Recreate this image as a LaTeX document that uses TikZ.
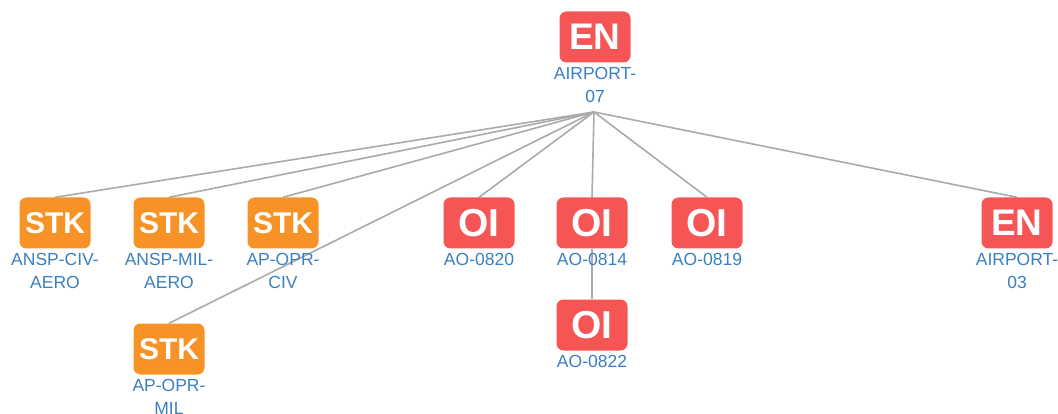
\documentclass[tikz,border=0pt]{standalone}
\usepackage{fontspec}
\setmainfont{Liberation Sans}
\usetikzlibrary{positioning}
\definecolor{enred}{RGB}{245,85,85}
\definecolor{stkorange}{RGB}{247,147,38}
\definecolor{lblblue}{RGB}{58,127,193}
\definecolor{edgegray}{RGB}{170,170,170}
\pgfdeclarelayer{bg}
\pgfsetlayers{bg,main}
\tikzset{
  box/.style={rounded corners=7pt, minimum width=71pt, minimum height=51pt, inner sep=0pt, text=white},
  enbox/.style={box, fill=enred, font=\fontsize{37}{37}\selectfont\bfseries},
  oibox/.style={box, fill=enred, font=\fontsize{39}{39}\selectfont\bfseries},
  stkbox/.style={box, fill=stkorange, font=\fontsize{30}{30}\selectfont\bfseries},
  lbl/.style={text=lblblue, align=center, font=\fontsize{17.5}{23}\selectfont, inner sep=0pt, anchor=north},
  link/.style={draw=edgegray, line width=1.6pt}
}
\begin{document}
\begin{tikzpicture}[x=1pt,y=-1pt]
\useasboundingbox (0,0) rectangle (1058,414);
% boxes
\node[enbox] (en7) at (595,37) {EN};
\node[lbl] (en7l) at (595,67) {AIRPORT-\\07};
\node[stkbox] (s1) at (55,223) {STK};
\node[lbl] (s1l) at (55,253) {ANSP-CIV-\\AERO};
\node[stkbox] (s2) at (169,223) {STK};
\node[lbl] (s2l) at (169,253) {ANSP-MIL-\\AERO};
\node[stkbox] (s3) at (283,223) {STK};
\node[lbl] (s3l) at (283,253) {AP-OPR-\\CIV};
\node[stkbox] (s4) at (169,349) {STK};
\node[lbl] (s4l) at (169,379) {AP-OPR-\\MIL};
\node[oibox] (o1) at (479,223) {OI};
\node[lbl] (o1l) at (479,253) {AO-0820};
\node[oibox] (o2) at (592,223) {OI};
\node[lbl] (o2l) at (592,253) {AO-0814};
\node[oibox] (o3) at (707,223) {OI};
\node[lbl] (o3l) at (707,253) {AO-0819};
\node[oibox] (o4) at (592,325) {OI};
\node[lbl] (o4l) at (592,355) {AO-0822};
\node[enbox] (en3) at (1017,223) {EN};
\node[lbl] (en3l) at (1017,253) {AIRPORT-\\03};
\coordinate (hub) at (594,112);
\begin{pgfonlayer}{bg}
\draw[link] (hub) -- (s1.north);
\draw[link] (hub) -- (s2.north);
\draw[link] (hub) -- (s3.north);
\draw[link] (hub) -- (s4.north);
\draw[link] (hub) -- (o1.north);
\draw[link] (hub) -- (o2.north);
\draw[link] (hub) -- (o3.north);
\draw[link] (hub) -- (en3.north);
\draw[link] (o2) -- (o4);
\end{pgfonlayer}
\end{tikzpicture}
\end{document}
